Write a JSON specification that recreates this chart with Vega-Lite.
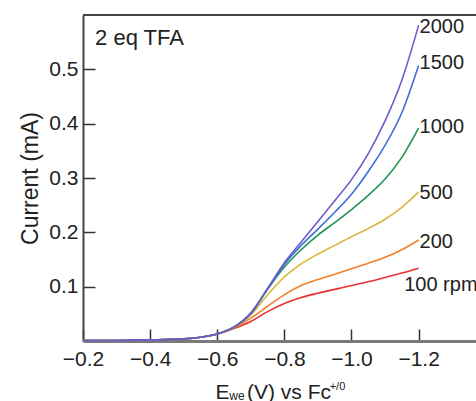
{
  "$schema": "https://vega.github.io/schema/vega-lite/v6.json",
  "width": 393,
  "height": 326,
  "autosize": {"type": "none"},
  "padding": {"left": 83, "top": 15, "right": 0, "bottom": 60},
  "background": "white",
  "config": {"view": {"stroke": null}, "font": "Liberation Sans", "axis": {"grid": false}},
  "datasets": {
    "curves": [
      {"rpm": "100", "E": -0.2, "I": 0.001}, {"rpm": "100", "E": -0.3, "I": 0.001}, {"rpm": "100", "E": -0.4, "I": 0.002}, {"rpm": "100", "E": -0.5, "I": 0.004}, {"rpm": "100", "E": -0.55, "I": 0.007}, {"rpm": "100", "E": -0.6, "I": 0.013}, {"rpm": "100", "E": -0.65, "I": 0.023},
      {"rpm": "100", "E": -0.7, "I": 0.036}, {"rpm": "100", "E": -0.75, "I": 0.054}, {"rpm": "100", "E": -0.8, "I": 0.069}, {"rpm": "100", "E": -0.85, "I": 0.080}, {"rpm": "100", "E": -0.9, "I": 0.088}, {"rpm": "100", "E": -0.95, "I": 0.095}, {"rpm": "100", "E": -1.0, "I": 0.102}, {"rpm": "100", "E": -1.05, "I": 0.109}, {"rpm": "100", "E": -1.1, "I": 0.117}, {"rpm": "100", "E": -1.15, "I": 0.125}, {"rpm": "100", "E": -1.2, "I": 0.134},
      {"rpm": "200", "E": -0.2, "I": 0.001}, {"rpm": "200", "E": -0.3, "I": 0.001}, {"rpm": "200", "E": -0.4, "I": 0.002}, {"rpm": "200", "E": -0.5, "I": 0.004}, {"rpm": "200", "E": -0.55, "I": 0.007}, {"rpm": "200", "E": -0.6, "I": 0.013}, {"rpm": "200", "E": -0.65, "I": 0.024},
      {"rpm": "200", "E": -0.7, "I": 0.042}, {"rpm": "200", "E": -0.75, "I": 0.064}, {"rpm": "200", "E": -0.8, "I": 0.085}, {"rpm": "200", "E": -0.85, "I": 0.102}, {"rpm": "200", "E": -0.9, "I": 0.113}, {"rpm": "200", "E": -0.95, "I": 0.123}, {"rpm": "200", "E": -1.0, "I": 0.133}, {"rpm": "200", "E": -1.05, "I": 0.143}, {"rpm": "200", "E": -1.1, "I": 0.154}, {"rpm": "200", "E": -1.15, "I": 0.168}, {"rpm": "200", "E": -1.2, "I": 0.186},
      {"rpm": "500", "E": -0.2, "I": 0.001}, {"rpm": "500", "E": -0.3, "I": 0.001}, {"rpm": "500", "E": -0.4, "I": 0.002}, {"rpm": "500", "E": -0.5, "I": 0.004}, {"rpm": "500", "E": -0.55, "I": 0.007}, {"rpm": "500", "E": -0.6, "I": 0.013}, {"rpm": "500", "E": -0.65, "I": 0.025},
      {"rpm": "500", "E": -0.7, "I": 0.048}, {"rpm": "500", "E": -0.75, "I": 0.085}, {"rpm": "500", "E": -0.8, "I": 0.118}, {"rpm": "500", "E": -0.85, "I": 0.142}, {"rpm": "500", "E": -0.9, "I": 0.160}, {"rpm": "500", "E": -0.95, "I": 0.176}, {"rpm": "500", "E": -1.0, "I": 0.192}, {"rpm": "500", "E": -1.05, "I": 0.207}, {"rpm": "500", "E": -1.1, "I": 0.224}, {"rpm": "500", "E": -1.15, "I": 0.246}, {"rpm": "500", "E": -1.2, "I": 0.274},
      {"rpm": "1000", "E": -0.2, "I": 0.001}, {"rpm": "1000", "E": -0.3, "I": 0.001}, {"rpm": "1000", "E": -0.4, "I": 0.002}, {"rpm": "1000", "E": -0.5, "I": 0.004}, {"rpm": "1000", "E": -0.55, "I": 0.007}, {"rpm": "1000", "E": -0.6, "I": 0.013}, {"rpm": "1000", "E": -0.65, "I": 0.025},
      {"rpm": "1000", "E": -0.7, "I": 0.050}, {"rpm": "1000", "E": -0.75, "I": 0.095}, {"rpm": "1000", "E": -0.8, "I": 0.136}, {"rpm": "1000", "E": -0.85, "I": 0.168}, {"rpm": "1000", "E": -0.9, "I": 0.195}, {"rpm": "1000", "E": -0.95, "I": 0.218}, {"rpm": "1000", "E": -1.0, "I": 0.242}, {"rpm": "1000", "E": -1.05, "I": 0.268}, {"rpm": "1000", "E": -1.1, "I": 0.298}, {"rpm": "1000", "E": -1.15, "I": 0.338}, {"rpm": "1000", "E": -1.2, "I": 0.392},
      {"rpm": "1500", "E": -0.2, "I": 0.001}, {"rpm": "1500", "E": -0.3, "I": 0.001}, {"rpm": "1500", "E": -0.4, "I": 0.002}, {"rpm": "1500", "E": -0.5, "I": 0.004}, {"rpm": "1500", "E": -0.55, "I": 0.007}, {"rpm": "1500", "E": -0.6, "I": 0.013}, {"rpm": "1500", "E": -0.65, "I": 0.026},
      {"rpm": "1500", "E": -0.7, "I": 0.051}, {"rpm": "1500", "E": -0.75, "I": 0.096}, {"rpm": "1500", "E": -0.8, "I": 0.141}, {"rpm": "1500", "E": -0.85, "I": 0.176}, {"rpm": "1500", "E": -0.9, "I": 0.206}, {"rpm": "1500", "E": -0.95, "I": 0.237}, {"rpm": "1500", "E": -1.0, "I": 0.270}, {"rpm": "1500", "E": -1.05, "I": 0.312}, {"rpm": "1500", "E": -1.1, "I": 0.360}, {"rpm": "1500", "E": -1.15, "I": 0.420}, {"rpm": "1500", "E": -1.2, "I": 0.507},
      {"rpm": "2000", "E": -0.2, "I": 0.001}, {"rpm": "2000", "E": -0.3, "I": 0.001}, {"rpm": "2000", "E": -0.4, "I": 0.002}, {"rpm": "2000", "E": -0.5, "I": 0.004}, {"rpm": "2000", "E": -0.55, "I": 0.007}, {"rpm": "2000", "E": -0.6, "I": 0.013}, {"rpm": "2000", "E": -0.65, "I": 0.026},
      {"rpm": "2000", "E": -0.7, "I": 0.052}, {"rpm": "2000", "E": -0.75, "I": 0.097}, {"rpm": "2000", "E": -0.8, "I": 0.144}, {"rpm": "2000", "E": -0.85, "I": 0.182}, {"rpm": "2000", "E": -0.9, "I": 0.220}, {"rpm": "2000", "E": -0.95, "I": 0.258}, {"rpm": "2000", "E": -1.0, "I": 0.297}, {"rpm": "2000", "E": -1.05, "I": 0.345}, {"rpm": "2000", "E": -1.1, "I": 0.405}, {"rpm": "2000", "E": -1.15, "I": 0.480}, {"rpm": "2000", "E": -1.2, "I": 0.581}
    ],
    "labels": [
      {"text": "2000", "E": -1.2, "I": 0.577},
      {"text": "1500", "E": -1.2, "I": 0.511},
      {"text": "1000", "E": -1.2, "I": 0.393},
      {"text": "500", "E": -1.2, "I": 0.272},
      {"text": "200", "E": -1.2, "I": 0.182},
      {"text": "100 rpm", "E": -1.154, "I": 0.103}
    ],
    "notes": [
      {"text": "2 eq TFA", "E": -0.236, "I": 0.544, "size": 22},
      {"text": "we", "E": -0.636, "I": -0.108, "size": 12},
      {"text": "+/0", "E": -0.935, "I": -0.091, "size": 11}
    ],
    "frame": [{"top": 0.6}]
  },
  "layer": [
    {
      "data": {"name": "curves"},
      "mark": {"type": "line", "strokeWidth": 1.6, "interpolate": "monotone"},
      "encoding": {
        "x": {
          "field": "E", "type": "quantitative",
          "scale": {"domain": [-0.2, -1.371], "nice": false, "zero": false},
          "axis": {
            "values": [-0.2, -0.3, -0.4, -0.5, -0.6, -0.7, -0.8, -0.9, -1.0, -1.1, -1.2, -1.3],
            "labelExpr": "abs(round(datum.value*10)) % 2 == 0 ? format(datum.value, '.1f') : ''",
            "tickSize": {"condition": {"test": "abs(round(datum.value*10)) % 2 == 0", "value": -12}, "value": -6},
            "tickColor": "#333", "tickWidth": 1.5,
            "domainColor": "#7a7a7a", "domainWidth": 3,
            "labelFontSize": 21, "labelColor": "#222", "labelPadding": 19, "labelFlush": false,
            "title": "E\u00a0\u00a0 (V) vs Fc",
            "titleAlign": "left", "titleX": 132,
            "titleFontSize": 21, "titleFontWeight": "normal", "titleColor": "#222", "titlePadding": 12
          }
        },
        "y": {
          "field": "I", "type": "quantitative",
          "scale": {"domain": [0, 0.6], "nice": false},
          "axis": {
            "values": [0.1, 0.2, 0.3, 0.4, 0.5],
            "format": ".1f",
            "tickSize": -12, "tickColor": "#333", "tickWidth": 1.5,
            "domainColor": "#444", "domainWidth": 2,
            "labelFontSize": 21, "labelColor": "#222", "labelPadding": 17,
            "title": "Current (mA)", "titleFontSize": 23, "titleFontWeight": "normal", "titleColor": "#222", "titlePadding": 6
          }
        },
        "color": {
          "field": "rpm", "type": "nominal",
          "scale": {"domain": ["100", "200", "500", "1000", "1500", "2000"], "range": ["#e8312f", "#f47f2b", "#d9b83d", "#1f9454", "#3d6fd6", "#6f5cc9"]},
          "legend": null
        }
      }
    },
    {
      "data": {"name": "frame"},
      "mark": {"type": "rule", "color": "#444", "strokeWidth": 2},
      "encoding": {"y": {"field": "top", "type": "quantitative"}}
    },
    {
      "data": {"name": "labels"},
      "mark": {"type": "text", "align": "left", "baseline": "middle", "dx": 1, "fontSize": 20, "color": "#222"},
      "encoding": {
        "x": {"field": "E", "type": "quantitative"},
        "y": {"field": "I", "type": "quantitative"},
        "text": {"field": "text"}
      }
    },
    {
      "data": {"name": "notes"},
      "mark": {"type": "text", "align": "left", "baseline": "alphabetic", "color": "#222"},
      "encoding": {
        "x": {"field": "E", "type": "quantitative"},
        "y": {"field": "I", "type": "quantitative"},
        "text": {"field": "text"},
        "size": {"field": "size", "type": "quantitative", "scale": null}
      }
    }
  ]
}
